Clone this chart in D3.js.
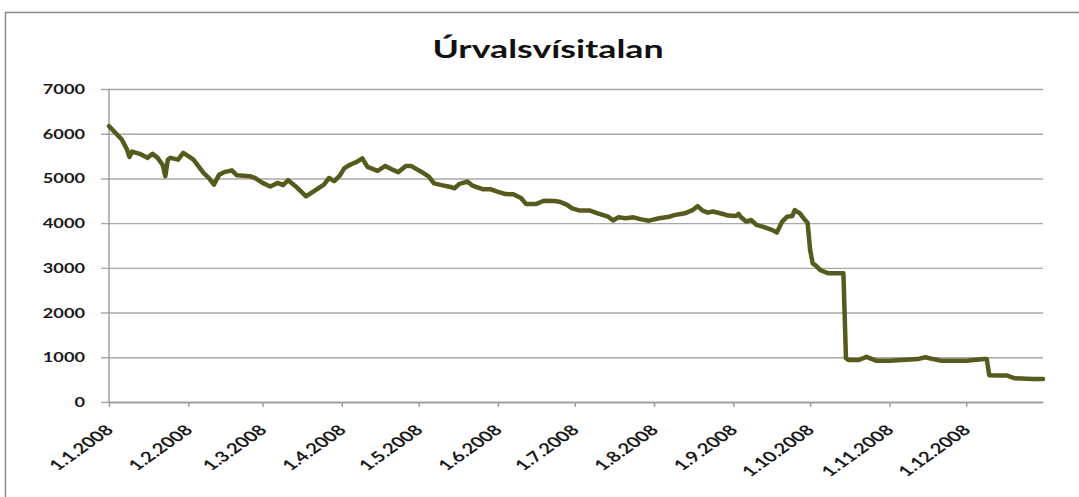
<!DOCTYPE html>
<html>
<head>
<meta charset="utf-8">
<script src="https://cdn.jsdelivr.net/npm/d3@7"></script>
<style>
  html, body { margin: 0; padding: 0; background: #fff; }
  svg { display: block; }
</style>
</head>
<body>
<svg id="chart" width="1079" height="497"></svg>
<script>
// ---- Data ----
const title = "Úrvalsvísitalan";
const dates = [
  "2008-01-01","2008-01-06","2008-01-08","2008-01-09","2008-01-10","2008-01-13","2008-01-16","2008-01-18","2008-01-20","2008-01-22",
  "2008-01-23","2008-01-24","2008-01-25","2008-01-28","2008-01-30","2008-02-01","2008-02-03","2008-02-05","2008-02-07","2008-02-09",
  "2008-02-11","2008-02-13","2008-02-15","2008-02-18","2008-02-20","2008-02-25","2008-02-27","2008-03-01","2008-03-04","2008-03-07",
  "2008-03-09","2008-03-11","2008-03-14","2008-03-18","2008-03-22","2008-03-25","2008-03-27","2008-03-29","2008-03-31","2008-04-02",
  "2008-04-04","2008-04-07","2008-04-09","2008-04-11","2008-04-15","2008-04-18","2008-04-21","2008-04-23","2008-04-26","2008-04-28",
  "2008-05-02","2008-05-05","2008-05-07","2008-05-10","2008-05-13","2008-05-15","2008-05-17","2008-05-20","2008-05-22","2008-05-26",
  "2008-05-29","2008-06-01","2008-06-04","2008-06-07","2008-06-10","2008-06-12","2008-06-16","2008-06-19","2008-06-23","2008-06-25",
  "2008-06-28","2008-06-30","2008-07-03","2008-07-07","2008-07-10","2008-07-14","2008-07-16","2008-07-18","2008-07-21","2008-07-24",
  "2008-07-27","2008-07-30","2008-08-03","2008-08-07","2008-08-09","2008-08-13","2008-08-16","2008-08-18","2008-08-20","2008-08-22",
  "2008-08-24","2008-08-28","2008-08-30","2008-09-02","2008-09-03","2008-09-04","2008-09-06","2008-09-08","2008-09-10","2008-09-13",
  "2008-09-16","2008-09-18","2008-09-20","2008-09-22","2008-09-24","2008-09-25","2008-09-27","2008-09-29","2008-09-30","2008-10-01",
  "2008-10-02","2008-10-03","2008-10-05","2008-10-08","2008-10-14","2008-10-15","2008-10-16","2008-10-20","2008-10-23","2008-10-27",
  "2008-11-01","2008-11-12","2008-11-15","2008-11-18","2008-11-21","2008-12-01","2008-12-08","2008-12-09","2008-12-10","2008-12-14",
  "2008-12-17","2008-12-20","2008-12-27","2008-12-31"
];
const values = [
  6170,5870,5650,5480,5600,5550,5460,5550,5460,5300,
  5050,5420,5460,5420,5570,5500,5420,5270,5120,5010,
  4860,5080,5140,5180,5070,5050,5010,4900,4820,4900,
  4850,4960,4820,4600,4750,4860,5010,4940,5050,5230,
  5300,5375,5450,5260,5170,5280,5190,5140,5280,5280,
  5150,5040,4890,4850,4815,4780,4880,4930,4840,4760,
  4760,4700,4650,4645,4560,4430,4430,4500,4495,4480,
  4410,4330,4280,4280,4220,4145,4060,4130,4110,4130,
  4085,4055,4110,4145,4180,4220,4290,4380,4280,4235,
  4260,4205,4170,4160,4205,4130,4035,4070,3960,3910,
  3850,3790,4030,4145,4160,4290,4220,4070,4010,3400,
  3100,3060,2950,2880,2880,980,940,940,1010,920,
  920,960,1000,960,925,925,960,960,600,590,
  590,530,515,515
];
const yTicks = [0,1000,2000,3000,4000,5000,6000,7000];
const xTickDates = ["2008-01-01","2008-02-01","2008-03-01","2008-04-01","2008-05-01","2008-06-01",
                    "2008-07-01","2008-08-01","2008-09-01","2008-10-01","2008-11-01","2008-12-01"];
const xTickLabels = ["1.1.2008","1.2.2008","1.3.2008","1.4.2008","1.5.2008","1.6.2008",
                     "1.7.2008","1.8.2008","1.9.2008","1.10.2008","1.11.2008","1.12.2008"];

// ---- Drawing ----
const parse = d3.timeParse("%Y-%m-%d");
const data = dates.map((d, i) => ({ date: parse(d), value: values[i] }));

const svg = d3.select("#chart");
const plotL = 109, plotR = 1043, plotT = 89, plotB = 402;
const FONT = "Lato, 'Open Sans', sans-serif";
const STRETCH = 1.4;

// outer chart border (cropped)
svg.append("path")
  .attr("d", "M5.5,497 V12.5 H1079")
  .attr("fill", "none").attr("stroke", "#8a8a8a").attr("stroke-width", 1.5);

const x = d3.scaleTime()
  .domain([parse("2008-01-01"), parse("2008-12-31")])
  .range([plotL, plotR]);
const y = d3.scaleLinear().domain([0, 7000]).range([plotB, plotT]);

// y axis with gridlines
const yAxis = svg.append("g")
  .attr("transform", `translate(101,0)`)
  .call(d3.axisLeft(y).tickValues(yTicks).tickSize(-(plotR - 101)).tickSizeOuter(0).tickFormat(d3.format("d")));
yAxis.select(".domain").remove();
yAxis.selectAll(".tick line").attr("stroke", "#a8a8a8").attr("stroke-width", 1.4);
yAxis.selectAll(".tick text")
  .attr("x", 0).attr("dy", "0.35em")
  .attr("transform", `translate(-16,0) scale(${STRETCH},1)`)
  .attr("font-family", FONT).attr("font-size", 13).attr("font-weight", "bold")
  .attr("fill", "#1a1a1a");

// y axis line
svg.append("line")
  .attr("x1", plotL).attr("x2", plotL).attr("y1", plotT).attr("y2", plotB)
  .attr("stroke", "#9a9a9a").attr("stroke-width", 1.4);

// x axis
const xAxis = svg.append("g")
  .attr("transform", `translate(0,${plotB})`)
  .call(d3.axisBottom(x).tickValues(xTickDates.map(parse)).tickSize(5).tickSizeOuter(0)
        .tickFormat((d, i) => xTickLabels[i]));
xAxis.select(".domain").attr("stroke", "#9a9a9a").attr("stroke-width", 1.4);
xAxis.selectAll(".tick line").attr("stroke", "#9a9a9a").attr("stroke-width", 1.4);
xAxis.selectAll(".tick text")
  .attr("x", 0).attr("y", 0).attr("dy", null)
  .attr("text-anchor", "end")
  .attr("transform", `translate(5,29) scale(${STRETCH},1) rotate(-45)`)
  .attr("font-family", FONT).attr("font-size", 14.5).attr("font-weight", "bold")
  .attr("fill", "#1a1a1a");

// line
const line = d3.line().x(d => x(d.date)).y(d => y(d.value));
svg.append("path")
  .datum(data)
  .attr("d", line)
  .attr("fill", "none")
  .attr("stroke", "#565a1c")
  .attr("stroke-width", 4.5)
  .attr("stroke-linejoin", "round")
  .attr("stroke-linecap", "round");

// title
svg.append("text")
  .attr("transform", `translate(548,58) scale(${STRETCH},1)`)
  .attr("text-anchor", "middle")
  .attr("font-family", FONT).attr("font-size", 25.5).attr("font-weight", "bold")
  .attr("fill", "#111")
  .text(title);
</script>
</body>
</html>
